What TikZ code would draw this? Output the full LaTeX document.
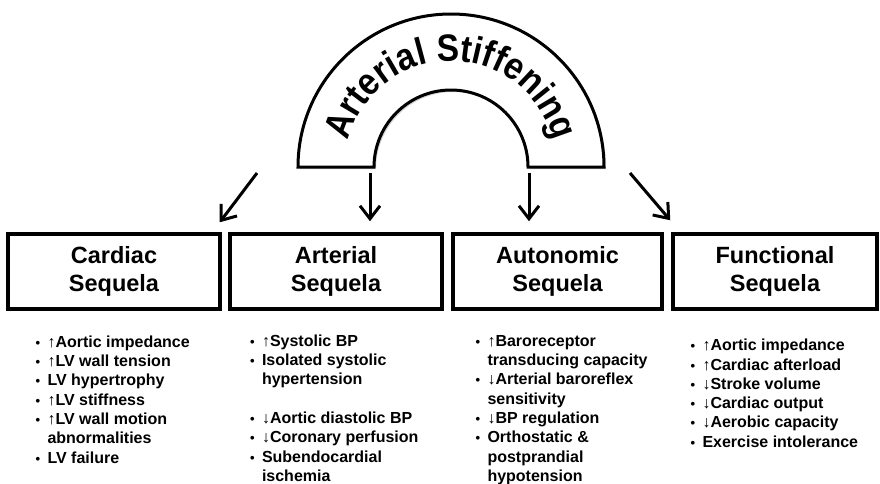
\documentclass[tikz,border=0pt]{standalone}
\usepackage{fontspec}
\setmainfont{Liberation Sans}
\newfontfamily\archfont[FakeStretch=0.88]{Liberation Sans Bold}
\usetikzlibrary{arrows.meta,shadows,decorations.text}

\newcommand{\bl}[1]{\makebox[11.8pt][l]{\fontsize{13}{13}\selectfont\textbullet}#1}
\newcommand{\cl}[1]{\hspace*{11.8pt}#1}

\tikzset{
  sequela/.style={draw, line width=3.5pt, fill=white, minimum height=75pt, inner sep=0pt,
    align=center, font=\fontsize{23.5}{28}\selectfont\bfseries,
    drop shadow={shadow xshift=2pt, shadow yshift=-2pt, fill=black!35}},
  effect/.style={line width=3pt, -{Straight Barb[length=13pt,width=20pt]}},
  seqlist/.style={anchor=north west, inner sep=0pt, align=left,
    font=\fontsize{16}{19.3}\selectfont\bfseries}
}

\begin{document}
\begin{tikzpicture}[x=1pt,y=-1pt]
\useasboundingbox (0,0) rectangle (880,483);
% the arch
\draw[line width=3pt, fill=white, drop shadow={shadow xshift=2pt, shadow yshift=-2pt, fill=black!35}]
  (298,167) arc[start angle=180, end angle=360, radius=153] -- (528,167)
  arc[start angle=360, end angle=180, radius=77] -- cycle;
\path[decorate, decoration={text along path, text align=center,
  text={|\archfont\fontsize{38}{38}\selectfont|Arterial Stiffening}}]
  (345,167) arc[start angle=180, end angle=360, radius=106];
% the four boxes
\node[sequela, minimum width=212pt] (cardiac) at (114,271.5) {Cardiac\\Sequela};
\node[sequela, minimum width=212pt] (arterial) at (336,271.5) {Arterial\\Sequela};
\node[sequela, minimum width=209pt] (autonomic) at (557.5,271.5) {Autonomic\\Sequela};
\node[sequela, minimum width=204pt] (functional) at (775,271.5) {Functional\\Sequela};
% arrows
\coordinate (footL) at (257,173);
\coordinate (legL) at (370,173);
\coordinate (legR) at (529,173);
\coordinate (footR) at (630,173);
\draw[effect] (footL) -- ([xshift=-2pt,yshift=10pt]cardiac.north east);
\draw[effect] (legL) -- ([yshift=11pt]legL |- arterial.north);
\draw[effect] (legR) -- ([yshift=11pt]legR |- autonomic.north);
\draw[effect] (footR) -- ([xshift=-1pt,yshift=12pt]functional.north west);
% the lists
\node[seqlist] (cardlist) at (35.5,333.5) {\strut\bl{↑Aortic impedance}\\\bl{↑LV wall tension}\\
  \bl{LV hypertrophy}\\\bl{↑LV stiffness}\\\bl{↑LV wall motion}\\\cl{abnormalities}\\\bl{LV failure}};
\node[seqlist] (artlist) at (250,332.5) {\strut\bl{↑Systolic BP}\\\bl{Isolated systolic}\\\cl{hypertension}\\[19.3pt]
  \bl{↓Aortic diastolic BP}\\\bl{↓Coronary perfusion}\\\bl{Subendocardial}\\\cl{ischemia}};
\node[seqlist] (autlist) at (475.5,332.5) {\strut\bl{↑Baroreceptor}\\\cl{transducing capacity}\\\bl{↓Arterial baroreflex}\\
  \cl{sensitivity}\\\bl{↓BP regulation}\\\bl{Orthostatic \&}\\\cl{postprandial}\\\cl{hypotension}};
\node[seqlist] (funclist) at (690.5,337) {\strut\bl{↑Aortic impedance}\\\bl{↑Cardiac afterload}\\\bl{↓Stroke volume}\\
  \bl{↓Cardiac output}\\\bl{↓Aerobic capacity}\\\bl{Exercise intolerance}};
\end{tikzpicture}
\end{document}
